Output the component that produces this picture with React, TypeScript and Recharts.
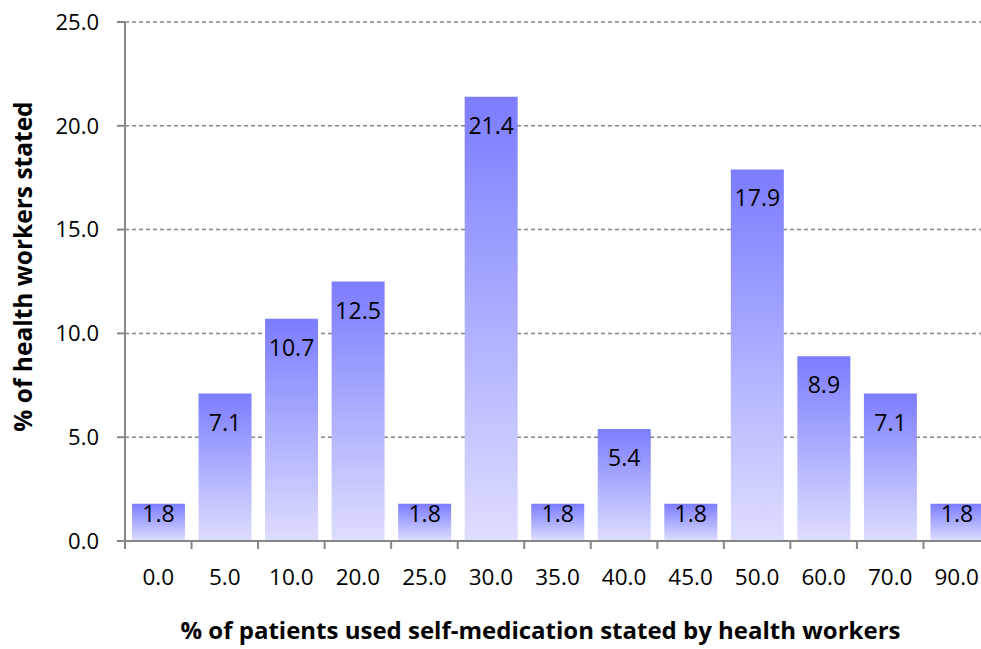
import React from 'react';
import { BarChart, Bar, XAxis, YAxis, CartesianGrid, LabelList } from 'recharts';

const categories = ['0.0', '5.0', '10.0', '20.0', '25.0', '30.0', '35.0', '40.0', '45.0', '50.0', '60.0', '70.0', '90.0'];
const shares = [1.8, 7.1, 10.7, 12.5, 1.8, 21.4, 1.8, 5.4, 1.8, 17.9, 8.9, 7.1, 1.8];
const yTicks = [0, 5, 10, 15, 20, 25];

const data = categories.map((c, i) => ({ category: c, share: shares[i] }));

const FONT = '"Open Sans", sans-serif';
const AXIS = '#878787';
const CHART_W = 995;
const CHART_H = 649;
const PLOT_LEFT = 125;
const PLOT_RIGHT_MARGIN = 5;
const BAND = (CHART_W - PLOT_LEFT - PLOT_RIGHT_MARGIN) / categories.length;

// category ticks sit between the bars, label centred under the bar
const XTick = (props: any) => {
  const { x, y, payload } = props;
  const half = payload && typeof payload.offset === 'number' && payload.offset > 0 ? payload.offset : BAND / 2;
  return (
    <g>
      <line x1={x - half} x2={x - half} y1={y - 28} y2={y - 20} stroke={AXIS} strokeWidth={2} />
      <text x={x} y={y} dy="0.71em" textAnchor="middle" fontFamily={FONT} fontSize={22.5} fill="#000">
        {payload.value}
      </text>
    </g>
  );
};

const ValueLabel = (props: any) => {
  const { x, y, width, height, value } = props;
  const drop = height < 60 ? height / 2 : 37;
  return (
    <text x={x + width / 2} y={y + drop} textAnchor="middle" fontFamily={FONT} fontSize={23} fill="#000">
      {Number(value).toFixed(1)}
    </text>
  );
};

const YTitle = (props: any) => {
  const vb = props.viewBox || { y: 22, height: 519 };
  const cy = vb.y + vb.height / 2 - 15;
  return (
    <text
      x={22}
      y={cy}
      transform={`rotate(-90 22 ${cy})`}
      textAnchor="middle"
      dominantBaseline="central"
      fontFamily={FONT}
      fontWeight={700}
      fontSize={24.5}
      fill="#000"
    >
      % of health workers stated
    </text>
  );
};

const XTitle = (props: any) => {
  const vb = props.viewBox || { x: 125, width: 865, y: 541 };
  const cx = vb.x + vb.width / 2 - 17;
  return (
    <text x={cx} y={639} textAnchor="middle" fontFamily={FONT} fontWeight={700} fontSize={24} fill="#000">
      % of patients used self-medication stated by health workers
    </text>
  );
};

export default function App() {
  return (
    <div style={{ position: 'absolute', left: 0, top: 0, width: 981, height: 649, overflow: 'hidden', background: '#fff' }}>
      <BarChart
        width={CHART_W}
        height={CHART_H}
        data={data}
        margin={{ top: 22, right: PLOT_RIGHT_MARGIN, left: 0, bottom: 0 }}
        barCategoryGap="10.5%"
      >
        <defs>
          <linearGradient id="barFill" x1="0" y1="0" x2="0" y2="1">
            <stop offset="0%" stopColor="#7c7cff" />
            <stop offset="100%" stopColor="#dedeff" />
          </linearGradient>
        </defs>
        <CartesianGrid vertical={false} stroke="#858585" strokeWidth={1.5} strokeDasharray="4 3" />
        <XAxis
          dataKey="category"
          height={108}
          tickLine={false}
          tickSize={8}
          tickMargin={20}
          interval={0}
          axisLine={{ stroke: AXIS, strokeWidth: 2 }}
          tick={<XTick />}
          label={<XTitle />}
        />
        <YAxis
          width={PLOT_LEFT}
          domain={[0, 25]}
          ticks={yTicks}
          tickFormatter={(v: number) => v.toFixed(1)}
          tickSize={8}
          tickMargin={18}
          tickLine={{ stroke: AXIS, strokeWidth: 2 }}
          axisLine={{ stroke: AXIS, strokeWidth: 2 }}
          tick={{ fontFamily: FONT, fontSize: 22, fill: '#000' }}
          label={<YTitle />}
        />
        <Bar dataKey="share" fill="url(#barFill)" isAnimationActive={false}>
          <LabelList dataKey="share" content={<ValueLabel />} />
        </Bar>
      </BarChart>
    </div>
  );
}
